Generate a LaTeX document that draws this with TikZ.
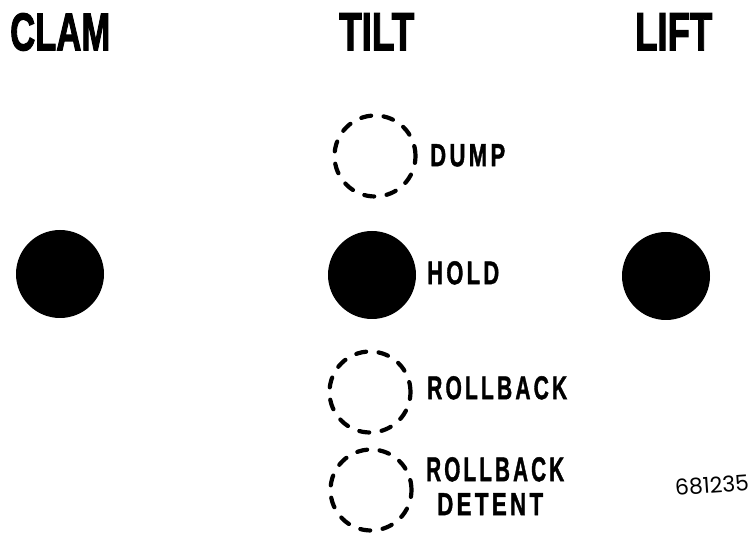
\documentclass[tikz,border=0pt]{standalone}
\usepackage{fontspec}
\setmainfont{Liberation Sans}
\newfontfamily\headfont[FakeBold=2.5]{Liberation Sans}
\newfontfamily\labfont[LetterSpace=15,FakeBold=1.5]{Liberation Sans}
\newfontfamily\numfont{Poppins}
\begin{document}
\begin{tikzpicture}[x=1pt,y=-1pt,
  head/.style={inner sep=0, anchor=north west, font=\headfont\bfseries},
  lab/.style={inner sep=0, anchor=north west, font=\labfont\bfseries},
  lamp/.style={circle, fill=black, minimum size=88pt, inner sep=0},
  dlamp/.style={circle, draw=black, line width=4.2pt, dash pattern=on 10pt off 12.5pt, line cap=round, minimum size=81pt, inner sep=0},
]
\useasboundingbox (0,0) rectangle (753,534);
% headers
\node[head] (clam) at (10,13) {\resizebox{100pt}{37pt}{CLAM}};
\node[head] (tilt) at (339,13) {\resizebox{75pt}{37pt}{TILT}};
\node[head] (lift) at (635,13) {\resizebox{77pt}{37pt}{LIFT}};
% filled lamps
\node[lamp] (clamlamp) at (60,274) {};
\node[lamp] (holdlamp) at (372,275) {};
\node[lamp] (liftlamp) at (666,276) {};
% dashed lamps
\node[dlamp] (dumplamp) at (375,156) {};
\node[dlamp] (rolllamp) at (370,392) {};
\node[dlamp] (detlamp) at (371,490) {};
% labels
\node[lab] (dump) at (430,144) {\resizebox{75pt}{22pt}{DUMP}};
\node[lab] (hold) at (427,261) {\resizebox{72pt}{23pt}{HOLD}};
\node[lab] (roll) at (427,376) {\resizebox{140pt}{23pt}{ROLLBACK}};
\node[lab] (roll2) at (426,457) {\resizebox{138pt}{24pt}{ROLLBACK}};
\node[lab] (detent) at (437,493) {\resizebox{106pt}{22pt}{DETENT}};
% figure number
\node[inner sep=0, rotate=4] (num) at (712,485) {\resizebox{74pt}{!}{\numfont 681235}};
\end{tikzpicture}
\end{document}
